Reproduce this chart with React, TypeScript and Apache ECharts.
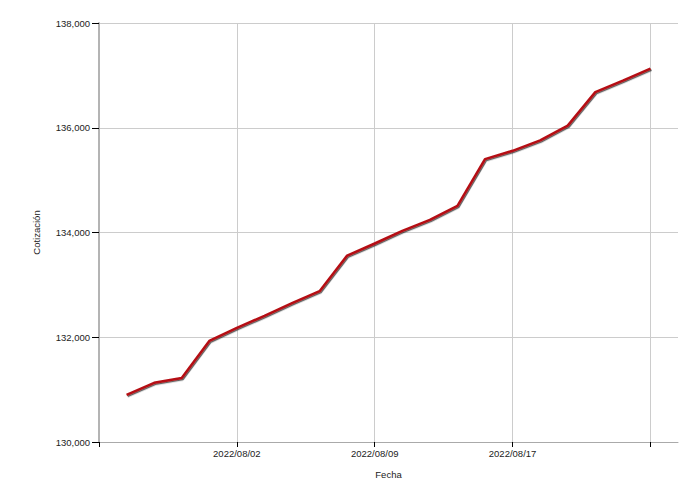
import React, { useEffect, useRef } from "react";
import * as echarts from "echarts";

// Business days (blank padding category at each end of the axis)
const dates: string[] = [
  "",
  "2022/07/27", "2022/07/28", "2022/07/29", "2022/08/01", "2022/08/02",
  "2022/08/03", "2022/08/04", "2022/08/05", "2022/08/08", "2022/08/09",
  "2022/08/10", "2022/08/11", "2022/08/12", "2022/08/16", "2022/08/17",
  "2022/08/18", "2022/08/19", "2022/08/22", "2022/08/23", "2022/08/24",
  "",
];

const cotizacion: (number | null)[] = [
  null,
  130900, 131130, 131220, 131930, 132180,
  132410, 132650, 132880, 133560, 133790,
  134030, 134240, 134510, 135400, 135560,
  135760, 136040, 136680, 136900, 137130,
  null,
];

const yMin = 130000;
const yMax = 138000;
const yStep = 2000;

const FONT = "Liberation Sans, Arial, sans-serif";

export default function App() {
  const ref = useRef<HTMLDivElement>(null);
  useEffect(() => {
    if (!ref.current) return;
    const chart = echarts.init(ref.current, undefined, { renderer: "svg" });
    const tickEvery = (i: number) => i % 5 === 0;
    chart.setOption({
      animation: false,
      grid: { left: 99, right: 22, top: 23, bottom: 58 },
      xAxis: {
        type: "category",
        data: dates,
        boundaryGap: false,
        name: "Fecha",
        nameLocation: "middle",
        nameGap: 27,
        nameTextStyle: { fontFamily: FONT, fontSize: 9.5, color: "#222" },
        axisLine: { show: true, lineStyle: { color: "#aaa", width: 1 } },
        axisTick: { show: true, length: 5, interval: tickEvery, lineStyle: { color: "#000" } },
        axisLabel: {
          interval: (i: number, v: string) => i % 5 === 0 && v !== "" && i < 20,
          margin: 6,
          fontFamily: FONT,
          fontSize: 9.5,
          color: "#222",
        },
        splitLine: { show: true, interval: tickEvery, lineStyle: { color: "#ccc", width: 1 } },
      },
      yAxis: {
        type: "value",
        min: yMin,
        max: yMax,
        interval: yStep,
        name: "Cotización",
        nameLocation: "middle",
        nameGap: 58,
        nameTextStyle: { fontFamily: FONT, fontSize: 9.5, color: "#222" },
        axisLine: { show: true, lineStyle: { color: "#b4b4b4", width: 2 } },
        axisTick: { show: true, length: 7, lineStyle: { color: "#000" } },
        axisLabel: {
          margin: 9,
          fontFamily: FONT,
          fontSize: 9.5,
          color: "#222",
          formatter: (v: number) => v.toLocaleString("en-US"),
        },
        splitLine: { show: true, lineStyle: { color: "#ccc", width: 1 } },
      },
      series: [
        {
          type: "line",
          data: cotizacion,
          showSymbol: false,
          connectNulls: false,
          lineStyle: {
            color: "#b50e12",
            width: 2.5,
            shadowColor: "rgba(0,0,0,0.6)",
            shadowBlur: 1.5,
            shadowOffsetX: 1,
            shadowOffsetY: 1.2,
          },
          itemStyle: { color: "#b50e12" },
        },
      ],
    });
    return () => chart.dispose();
  }, []);
  return <div ref={ref} style={{ width: 700, height: 500, position: "absolute", left: 0, top: 0 }} />;
}
